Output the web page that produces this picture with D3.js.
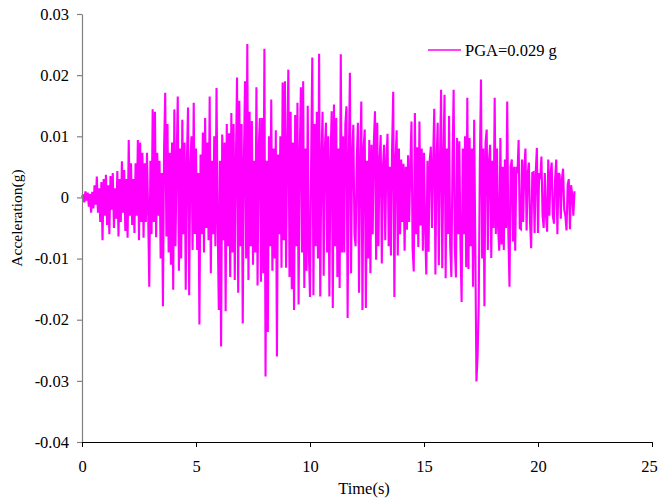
<!DOCTYPE html>
<html>
<head>
<meta charset="utf-8">
<script src="https://cdn.jsdelivr.net/npm/d3@7/dist/d3.min.js"></script>
<style>
  html, body { margin: 0; padding: 0; background: #fff; }
  svg { display: block; }
  text { font-family: "Liberation Serif", "Times New Roman", serif; fill: #000; }
</style>
</head>
<body>
<svg id="chart" width="659" height="500"></svg>
<script>
// ---- data (acceleration in milli-g, sampled every dt seconds) ----
const dt = 0.05;
const accelMg = [
  // 0 s
  0, 0.5, -0.8, 1.0, -0.5, 0.8, -1.5, 0.6, -2.5, 0.9, -1.8, 2.0, -1.2, 3.4, -2.5, 1.5, -4.0, 2.5, -7.0, 3.0,
  // 1 s
  -3.0, 3.7, -4.5, 2.0, -6.0, 3.5, -2.0, 4.0, -5.0, 1.5, -3.5, 4.3, -6.4, 3.0, -4.0, 5.9, -2.5, 4.5, -5.5, 3.0,
  // 2 s
  -6.6, 9.4, -3.0, 5.6, -4.5, 3.0, -5.8, 5.6, -3.0, 9.4, -7.0, 9.0, -4.0, 7.3, -6.6, 5.6, -4.0, 7.3, -2.0, -14.6,
  // 3 s
  6.0, -6.0, 14.4, -4.0, 14.0, -6.5, 7.3, -3.0, 6.0, -10.0, 4.0, -17.8, 8.0, 17.1, -6.4, 12.0, -9.0, 7.3, -11.0, 9.0,
  // 4 s
  -15.1, 14.4, -8.0, 6.0, 16.5, -12.0, 8.0, -10.0, 12.7, -6.0, 9.0, -15.1, 6.0, 14.7, -16.0, 5.0, 10.0, -8.6, 15.5, -6.0,
  // 5 s
  8.0, -8.6, 4.0, -20.8, 7.0, -6.0, 10.6, -9.0, 13.0, -5.0, 9.0, -7.0, 16.5, -12.4, 6.0, -6.0, 10.0, -8.0, 17.9, -4.0,
  // 6 s
  -18.4, 6.0, -24.4, 10.3, -7.0, 9.0, -18.6, 12.0, -8.0, 10.5, -13.0, 13.8, -9.0, 12.0, -13.5, 6.0, 19.6, -15.6, 15.8, -8.0,
  // 7 s
  12.0, -20.6, 6.0, 19.0, -10.0, 25.1, -13.5, 14.0, -8.0, 12.5, -11.0, 6.0, -9.0, 18.0, -14.4, 8.0, 13.0, -13.8, 13.0, -12.4,
  // 8 s
  24.3, -29.3, 6.0, -22.0, 10.0, -8.0, 16.0, -12.0, 8.0, -10.0, 11.0, -26.0, 7.0, -6.0, 10.0, -11.5, 18.8, -7.0, 19.0, -11.5,
  // 9 s
  8.0, 20.9, -13.0, 14.0, -15.0, 9.0, -18.4, 13.5, -8.0, 15.5, -17.5, 7.0, 18.0, -9.0, 19.0, -14.8, 8.0, -12.0, 15.0, -9.0,
  // 10 s
  -16.3, 6.0, 22.9, -16.0, 12.0, -8.0, 14.0, -10.0, 23.5, -16.2, 6.0, 14.0, -12.8, 8.0, 12.2, -9.0, 10.0, -16.2, 6.0, 14.1,
  // 11 s
  -18.1, 15.2, -8.0, 13.0, -13.0, 8.0, -14.8, 23.4, -9.0, 10.0, -9.0, 12.0, 14.9, -19.7, 6.0, 20.4, -12.4, 7.0, 11.9, -6.0,
  // 12 s
  -8.0, 6.0, 12.2, -15.6, 6.0, 15.7, -18.4, 8.0, 11.1, -18.1, 6.0, -10.0, 9.4, -12.4, 8.6, -6.0, 9.0, 14.1, -10.2, 12.2,
  // 13 s
  -8.0, 6.0, 10.2, -10.8, 5.0, 8.6, -7.0, 6.0, 10.4, -8.0, 5.0, -9.5, 8.0, 17.3, -16.3, 6.0, 11.0, -9.5, 8.0, -6.0,
  // 14 s
  6.2, -4.0, 5.5, -8.7, 5.0, -5.3, 6.9, -4.0, 5.0, 12.4, -8.3, -12.1, 13.8, -6.0, 8.2, -8.1, 12.4, -4.6, 8.0, -8.7,
  // 15 s
  7.3, -5.0, -12.6, 6.0, -8.9, 6.0, 8.3, -5.0, 6.0, 14.5, -12.6, 6.0, 12.2, -11.1, 6.0, 17.6, -11.6, 6.0, 16.8, -13.2,
  // 16 s
  8.0, -6.0, 13.3, -8.0, -13.0, 6.0, 17.6, -8.0, -13.1, 9.7, -6.0, 9.2, -8.0, -17.1, 8.0, -6.0, 10.0, -11.4, 16.3, -11.7,
  // 17 s
  9.7, -8.0, 8.0, -14.6, 12.7, -8.0, -30.1, -26.0, -17.6, 6.0, 19.3, -10.0, 8.0, -17.8, 9.0, 11.1, -8.6, 6.0, 8.6, -9.9,
  // 18 s
  6.0, -5.0, 16.3, -6.0, 8.0, -5.0, -8.7, 9.7, -7.7, 5.0, -8.6, 6.2, -5.0, 15.7, -6.0, -14.6, 5.0, 6.2, -7.2, 5.0,
  // 19 s
  -8.7, 5.0, 4.0, 9.4, -5.0, -5.2, 6.2, -4.0, 5.0, 8.0, -5.4, 4.0, 5.7, -4.0, -8.3, 4.0, 4.1, -5.8, 4.0, 8.1,
  // 20 s
  -5.8, 4.0, 3.0, 6.7, -3.0, -5.0, 4.0, -3.0, -5.6, 6.2, -3.0, 4.0, 5.7, -3.0, -4.3, 3.0, 6.2, -6.0, 4.0, 3.7,
  // 21 s
  -3.5, 3.0, 4.7, -2.0, -3.0, -5.4, 2.0, 3.0, -5.2, 2.0, 0.5, -3.0, 1.0
];
const seriesName = "PGA=0.029 g";
const xTicks = [0, 5, 10, 15, 20, 25];
const yTicks = [-0.04, -0.03, -0.02, -0.01, 0, 0.01, 0.02, 0.03];
const yTickLabels = ["-0.04", "-0.03", "-0.02", "-0.01", "0", "0.01", "0.02", "0.03"];
const xTitle = "Time(s)";
const yTitle = "Acceleration(g)";

// ---- layout ----
const svg = d3.select("#chart");
const plotL = 82, plotR = 652, plotT = 14, plotB = 442;
const fontSize = 16.5;

const x = d3.scaleLinear().domain([0, 25]).range([plotL, plotR]);
const y = d3.scaleLinear().domain([-0.04, 0.03]).range([plotB, plotT]);

const points = accelMg.map((v, i) => ({ t: i * dt, a: v / 1000 }));

// line
const line = d3.line().x(d => x(d.t)).y(d => y(d.a));
svg.append("path")
  .datum(points)
  .attr("d", line)
  .attr("fill", "none")
  .attr("stroke", "#ff00ff")
  .attr("stroke-width", 2.1)
  .attr("stroke-linejoin", "miter")
  .attr("stroke-miterlimit", 3);

// y axis
const yAxis = svg.append("g")
  .attr("transform", `translate(${plotL},0)`)
  .call(d3.axisLeft(y).tickValues(yTicks)
    .tickFormat((d, i) => yTickLabels[i])
    .tickSize(5).tickPadding(8).tickSizeOuter(0));
yAxis.select(".domain").attr("stroke", "#808080").attr("stroke-width", 1.2);
yAxis.selectAll(".tick line").attr("stroke", "#808080").attr("stroke-width", 1.2);
yAxis.selectAll("text").attr("font-size", fontSize).attr("fill", "#000")
  .style("font-family", '"Liberation Serif", serif');

// x axis
const xAxis = svg.append("g")
  .attr("transform", `translate(0,${plotB})`)
  .call(d3.axisBottom(x).tickValues(xTicks)
    .tickFormat(d3.format("d"))
    .tickSize(5).tickPadding(13).tickSizeOuter(0));
xAxis.select(".domain").attr("stroke", "#000").attr("stroke-width", 1);
xAxis.selectAll(".tick line").attr("stroke", "#000");
xAxis.selectAll("text").attr("font-size", fontSize).attr("fill", "#000")
  .style("font-family", '"Liberation Serif", serif');
// keep the last tick label inside the canvas
xAxis.selectAll(".tick text").filter(d => d === xTicks[xTicks.length - 1])
  .attr("dx", -3);

// titles
svg.append("text")
  .attr("x", (plotL + plotR) / 2 - 3)
  .attr("y", 494)
  .attr("text-anchor", "middle")
  .attr("font-size", fontSize)
  .text(xTitle);

svg.append("text")
  .attr("transform", `translate(22,218) rotate(-90)`)
  .attr("text-anchor", "middle")
  .attr("font-size", 15.5)
  .text(yTitle);

// legend
svg.append("line")
  .attr("x1", 428).attr("x2", 461)
  .attr("y1", 50).attr("y2", 50)
  .attr("stroke", "#ff00ff").attr("stroke-width", 1.6);
svg.append("text")
  .attr("x", 465).attr("y", 56)
  .attr("font-size", fontSize)
  .text(seriesName);
</script>
</body>
</html>
